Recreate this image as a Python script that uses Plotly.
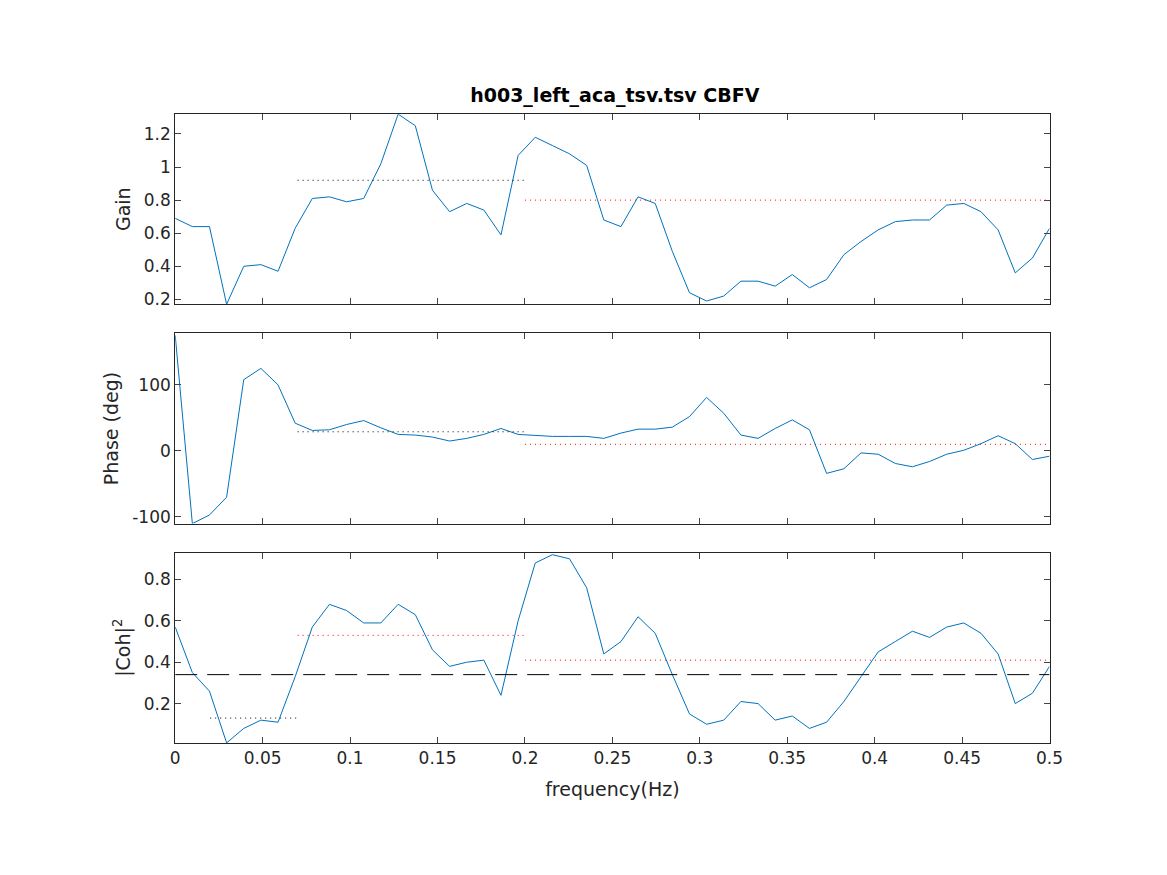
import plotly.graph_objects as go

freq = [round(k * 0.5 / 51, 4) for k in range(52)]
gain = [0.69, 0.64, 0.64, 0.17, 0.40, 0.41, 0.37, 0.63, 0.81, 0.82, 0.79, 0.81, 1.02, 1.32, 1.25, 0.86,
        0.73, 0.78, 0.74, 0.59, 1.07, 1.18, 1.13, 1.08, 1.01, 0.68, 0.64, 0.82, 0.78, 0.49, 0.24, 0.19,
        0.22, 0.31, 0.31, 0.28, 0.35, 0.27, 0.32, 0.47, 0.55, 0.62, 0.67, 0.68, 0.68, 0.77, 0.78, 0.73,
        0.62, 0.36, 0.45, 0.63]
phase = [175, -110, -97, -70, 108, 125, 100, 42, 31, 32, 40, 46, 35, 25, 24, 21, 15, 19, 25, 34, 25,
         23, 22, 22, 22, 19, 27, 33, 33, 36, 52, 81, 57, 24, 19, 34, 47, 32, -34, -27, -3, -5, -19, -24,
         -16, -5, 1, 11, 23, 11, -13, -8]
coh = [0.57, 0.35, 0.26, 0.01, 0.08, 0.12, 0.11, 0.33, 0.57, 0.68, 0.65, 0.59, 0.59, 0.68, 0.63, 0.46,
       0.38, 0.40, 0.41, 0.24, 0.60, 0.88, 0.92, 0.90, 0.76, 0.44, 0.50, 0.62, 0.54, 0.34, 0.15, 0.10,
       0.12, 0.21, 0.20, 0.12, 0.14, 0.08, 0.11, 0.21, 0.33, 0.45, 0.50, 0.55, 0.52, 0.57, 0.59, 0.54,
       0.44, 0.20, 0.25, 0.38]

# band means: (axis, x0, x1, value, colour)
bands = [
    (1, 0.07, 0.2, 0.92, "black"), (1, 0.2, 0.5, 0.80, "red"),
    (2, 0.07, 0.2, 29, "black"), (2, 0.2, 0.5, 10, "red"),
    (3, 0.02, 0.07, 0.13, "black"), (3, 0.07, 0.2, 0.53, "red"), (3, 0.2, 0.5, 0.41, "red"),
]
coh_threshold = 0.34

fig = go.Figure()
blue = "#0072BD"
for i, ys in enumerate([gain, phase, coh], start=1):
    fig.add_trace(go.Scatter(x=freq, y=ys, mode="lines", line=dict(color=blue, width=1),
                             xaxis="x" if i == 1 else f"x{i}", yaxis="y" if i == 1 else f"y{i}",
                             showlegend=False))
for ax, x0, x1, v, c in bands:
    fig.add_trace(go.Scatter(x=[x0, x1], y=[v, v], mode="lines",
                             line=dict(color=c, width=1, dash="1px,4px"),
                             xaxis="x" if ax == 1 else f"x{ax}", yaxis="y" if ax == 1 else f"y{ax}",
                             showlegend=False))
fig.add_trace(go.Scatter(x=[0, 0.5], y=[coh_threshold] * 2, mode="lines",
                         line=dict(color="black", width=1, dash="22px,10px"),
                         xaxis="x3", yaxis="y3", showlegend=False))

axstyle = dict(showline=True, linecolor="#262626", mirror="ticks", ticks="inside", ticklen=6,
               showgrid=False, zeroline=False, tickfont=dict(size=17, color="#262626"))
doms = [(0.6594, 0.878), (0.4074, 0.626), (0.1553, 0.374)]
ranges = [(0.17, 1.32), (-110, 178), (0.01, 0.93)]
titles = ["Gain", "Phase (deg)", "|Coh|<sup>2</sup>"]
tickv = [[0.2, 0.4, 0.6, 0.8, 1, 1.2], [-100, 0, 100], [0.2, 0.4, 0.6, 0.8]]
tickt = [["0.2", "0.4", "0.6", "0.8", "1", "1.2"], ["-100", "0", "100"], ["0.2", "0.4", "0.6", "0.8"]]
layout = {}
for i in range(3):
    s = "" if i == 0 else str(i + 1)
    layout["xaxis" + s] = dict(axstyle, domain=[0.1413, 0.9029], range=[0, 0.5], anchor="y" + s,
                               tickvals=[0, 0.05, 0.1, 0.15, 0.2, 0.25, 0.3, 0.35, 0.4, 0.45, 0.5],
                               ticktext=["0", "0.05", "0.1", "0.15", "0.2", "0.25", "0.3", "0.35",
                                         "0.4", "0.45", "0.5"],
                               showticklabels=(i == 2))
    layout["yaxis" + s] = dict(axstyle, domain=list(doms[i]), range=list(ranges[i]), anchor="x" + s,
                               tickvals=tickv[i], ticktext=tickt[i],
                               title=dict(text=titles[i], font=dict(size=19, color="#262626"), standoff=8))
layout["xaxis3"]["title"] = dict(text="frequency(Hz)", font=dict(size=19, color="#262626"))
fig.update_layout(**layout)
fig.update_layout(width=1167, height=875, margin=dict(l=0, r=0, t=0, b=0),
                  plot_bgcolor="white", paper_bgcolor="white",
                  font=dict(family="DejaVu Sans"),
                  title=dict(text="<b>h003_left_aca_tsv.tsv CBFV</b>", x=0.52, xanchor="center",
                             y=0.9, yanchor="middle", font=dict(size=19, color="black")))
fig.write_html("out.html")
